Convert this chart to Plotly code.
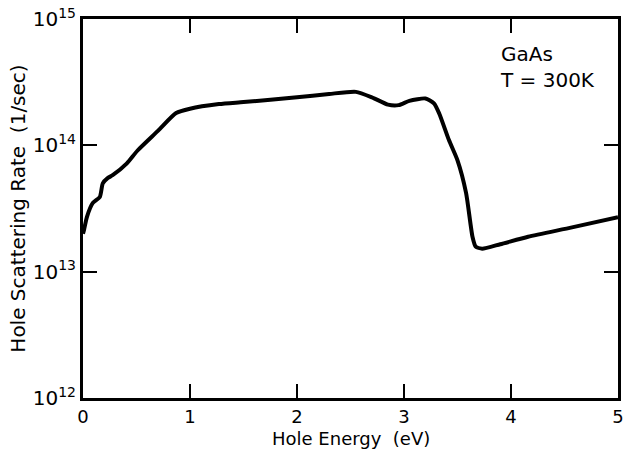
import plotly.graph_objects as go

energy = [0.0, 0.01, 0.037, 0.092, 0.157, 0.185, 0.23, 0.277, 0.41, 0.51, 0.70, 0.87, 1.0, 1.27, 1.5, 2.0, 2.3, 2.55, 2.7, 2.85, 2.95, 3.05, 3.2, 3.28, 3.33, 3.42, 3.50, 3.58, 3.64, 3.67, 3.73, 3.9, 4.16, 4.57, 5.0]
rate = [2.0e13, 2.15e13, 2.72e13, 3.5e13, 3.9e13, 5.0e13, 5.5e13, 5.8e13, 7.2e13, 9.1e13, 1.3e14, 1.8e14, 1.95e14, 2.12e14, 2.2e14, 2.4e14, 2.55e14, 2.65e14, 2.4e14, 2.1e14, 2.08e14, 2.25e14, 2.35e14, 2.15e14, 1.78e14, 1.1e14, 7.6e13, 4.2e13, 1.89e13, 1.58e13, 1.52e13, 1.65e13, 1.89e13, 2.24e13, 2.7e13]

x_ticks = [0, 1, 2, 3, 4, 5]
y_ticks = [1e12, 1e13, 1e14, 1e15]
y_labels = ["10<sup>12</sup>", "10<sup>13</sup>", "10<sup>14</sup>", "10<sup>15</sup>"]

font = "DejaVu Sans, Liberation Sans, sans-serif"

fig = go.Figure()
fig.add_trace(go.Scatter(x=energy, y=rate, mode="lines",
                         line=dict(color="black", width=4, shape="spline", smoothing=0.6),
                         showlegend=False))

fig.update_layout(
    width=629, height=451,
    margin=dict(l=83, r=5, t=17, b=53),
    paper_bgcolor="white", plot_bgcolor="white",
    font=dict(family=font, size=18, color="black"),
    xaxis=dict(range=[0, 5], tickvals=x_ticks, ticks="inside", ticklen=14, tickwidth=1.5,
               tickcolor="black", showline=True, linewidth=3, linecolor="black", mirror="ticks",
               showgrid=False, zeroline=False, tickfont=dict(size=18)),
    yaxis=dict(type="log", range=[12, 15], tickvals=y_ticks, ticktext=y_labels,
               ticks="inside", ticklen=14, tickwidth=1.5, tickcolor="black",
               showline=True, linewidth=3, linecolor="black", mirror="ticks",
               showgrid=False, zeroline=False,
               title=dict(text="Hole Scattering Rate  (1/sec)", standoff=2, font=dict(size=20)),
               tickfont=dict(size=20)),
    annotations=[
        dict(x=3.88, y=14.62, xref="x", yref="y", xanchor="left", yanchor="middle",
             text="GaAs<br>T = 300K", showarrow=False, align="left",
             font=dict(family=font, size=20, color="black")),
        dict(x=0.5, y=0, xref="paper", yref="paper", xanchor="center", yanchor="top",
             yshift=-28, text="Hole Energy  (eV)", showarrow=False,
             font=dict(family=font, size=18, color="black")),
    ],
)

fig.write_html("out.html")
